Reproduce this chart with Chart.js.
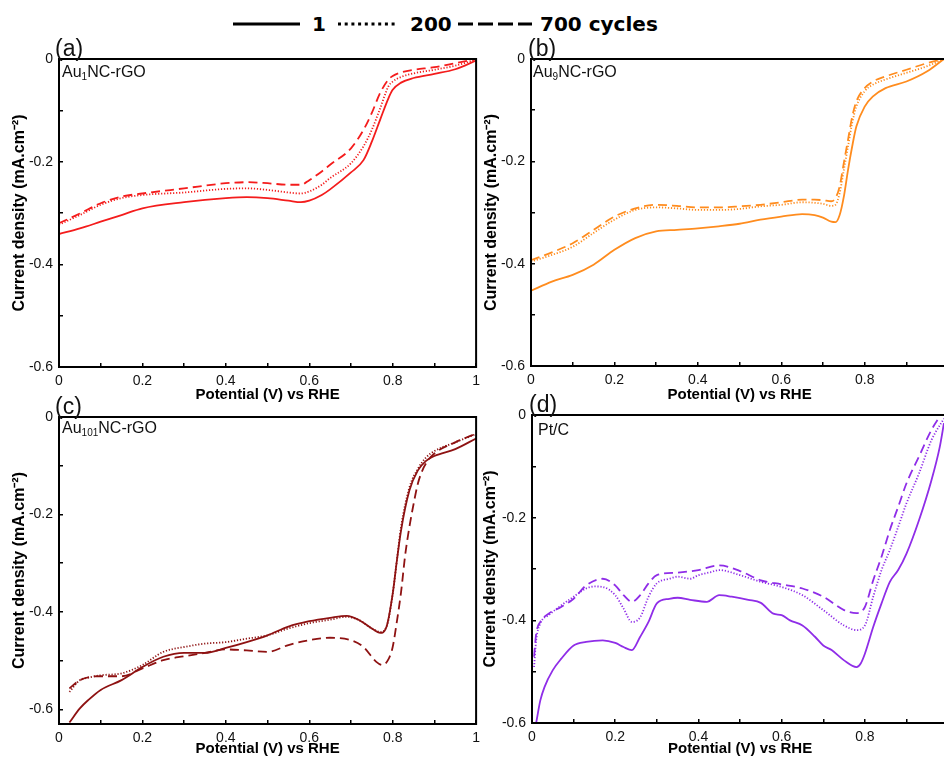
<!DOCTYPE html>
<html>
<head>
<meta charset="utf-8">
<script src="https://cdn.jsdelivr.net/npm/chart.js"></script>
<style>
html, body { margin: 0; padding: 0; background: #fff; }
#page { position: relative; width: 944px; height: 758px; overflow: hidden; font-family: "Liberation Sans", Arial, sans-serif; }
canvas { position: absolute; }
.tag { position: absolute; font-size: 23px; line-height: 23px; color: #111; }
.name { position: absolute; font-size: 16px; line-height: 16px; color: #111; white-space: nowrap; }
.name sub { font-size: 10px; vertical-align: -3px; line-height: 0; }
.leg { position: absolute; top: 12px; font: bold 20px "DejaVu Sans", Verdana, sans-serif; line-height: 24px; color: #000; white-space: nowrap; }
.legline { position: absolute; top: 21px; }
</style>
</head>
<body>
<div id="page">
  <div id="legend"></div>

  <canvas id="chartA"></canvas>
  <canvas id="chartB"></canvas>
  <canvas id="chartC"></canvas>
  <canvas id="chartD"></canvas>

  <div class="tag" style="left:55px;top:37px">(a)</div>
  <div class="tag" style="left:528px;top:37px">(b)</div>
  <div class="tag" style="left:55px;top:395px">(c)</div>
  <div class="tag" style="left:529px;top:393px">(d)</div>

  <div class="name" style="left:62px;top:64px">Au<sub>1</sub>NC-rGO</div>
  <div class="name" style="left:533px;top:64px">Au<sub>9</sub>NC-rGO</div>
  <div class="name" style="left:62px;top:420px">Au<sub>101</sub>NC-rGO</div>
  <div class="name" style="left:538px;top:422px">Pt/C</div>
</div>

<script>
"use strict";

// cycle numbers, same order as the series in each panel
var cycleLabels = ['1', '200', '700 cycles'];

// (a) Au1NC-rGO  -- potential (V vs RHE) / current density (mA.cm-2)
var aV = [0, 0.05, 0.1, 0.15, 0.2, 0.3, 0.4, 0.45, 0.5, 0.55, 0.58, 0.6, 0.63, 0.65, 0.7, 0.73, 0.75, 0.77, 0.79, 0.8, 0.82, 0.85, 0.9, 0.95, 1.0];
var a1 = [-0.341, -0.330, -0.317, -0.304, -0.291, -0.279, -0.271, -0.269, -0.271, -0.276, -0.279, -0.276, -0.265, -0.254, -0.221, -0.197, -0.161, -0.118, -0.076, -0.060, -0.046, -0.037, -0.029, -0.020, -0.003];
var a200 = [-0.323, -0.304, -0.284, -0.271, -0.265, -0.260, -0.253, -0.252, -0.255, -0.260, -0.262, -0.258, -0.245, -0.232, -0.203, -0.170, -0.138, -0.096, -0.053, -0.044, -0.035, -0.028, -0.021, -0.013, -0.001];
var a700 = [-0.320, -0.301, -0.281, -0.268, -0.262, -0.252, -0.242, -0.240, -0.242, -0.245, -0.245, -0.236, -0.219, -0.206, -0.174, -0.138, -0.105, -0.066, -0.040, -0.033, -0.026, -0.021, -0.016, -0.008, 0];

// (b) Au9NC-rGO
var bV = [0, 0.05, 0.1, 0.15, 0.2, 0.25, 0.3, 0.35, 0.4, 0.45, 0.5, 0.55, 0.6, 0.65, 0.68, 0.7, 0.72, 0.73, 0.74, 0.75, 0.76, 0.77, 0.78, 0.8, 0.82, 0.85, 0.9, 0.95, 0.99];
var b1 = [-0.453, -0.435, -0.422, -0.402, -0.373, -0.350, -0.337, -0.334, -0.331, -0.327, -0.322, -0.314, -0.308, -0.303, -0.305, -0.310, -0.318, -0.319, -0.305, -0.269, -0.217, -0.171, -0.132, -0.093, -0.073, -0.057, -0.044, -0.024, 0];
var b200 = [-0.396, -0.383, -0.367, -0.340, -0.314, -0.295, -0.290, -0.292, -0.295, -0.295, -0.293, -0.288, -0.285, -0.280, -0.281, -0.283, -0.287, -0.285, -0.262, -0.217, -0.171, -0.125, -0.093, -0.063, -0.050, -0.040, -0.027, -0.014, 0];
var b700 = [-0.393, -0.378, -0.360, -0.334, -0.308, -0.292, -0.285, -0.287, -0.290, -0.290, -0.288, -0.285, -0.280, -0.275, -0.275, -0.276, -0.278, -0.272, -0.249, -0.203, -0.158, -0.113, -0.083, -0.057, -0.044, -0.034, -0.021, -0.008, 0];

// (c) Au101NC-rGO
var cV = [0.025, 0.05, 0.07, 0.1, 0.15, 0.2, 0.25, 0.3, 0.35, 0.4, 0.45, 0.5, 0.55, 0.6, 0.65, 0.69, 0.72, 0.75, 0.77, 0.785, 0.8, 0.81, 0.82, 0.84, 0.86, 0.88, 0.9, 0.95, 1.0];
var c1 = [-0.627, -0.598, -0.581, -0.560, -0.540, -0.513, -0.492, -0.484, -0.484, -0.474, -0.462, -0.448, -0.430, -0.419, -0.412, -0.408, -0.417, -0.434, -0.443, -0.431, -0.363, -0.295, -0.233, -0.151, -0.110, -0.090, -0.080, -0.066, -0.044];
var c200 = [-0.564, -0.540, -0.535, -0.530, -0.526, -0.509, -0.482, -0.472, -0.465, -0.462, -0.455, -0.448, -0.434, -0.423, -0.416, -0.410, -0.417, -0.434, -0.441, -0.431, -0.363, -0.295, -0.226, -0.145, -0.107, -0.083, -0.070, -0.052, -0.035];
var c700V = [0.025, 0.05, 0.1, 0.15, 0.2, 0.25, 0.3, 0.35, 0.4, 0.45, 0.5, 0.55, 0.6, 0.65, 0.7, 0.73, 0.76, 0.775, 0.79, 0.8, 0.81, 0.82, 0.83, 0.84, 0.85, 0.86, 0.87, 0.88, 0.9, 0.95, 1.0];
var c700 = [-0.557, -0.540, -0.532, -0.532, -0.516, -0.499, -0.491, -0.484, -0.477, -0.479, -0.482, -0.468, -0.458, -0.453, -0.458, -0.472, -0.502, -0.509, -0.497, -0.472, -0.420, -0.360, -0.283, -0.226, -0.179, -0.138, -0.112, -0.095, -0.075, -0.052, -0.034];

// (d) Pt/C
var d1V = [0.01, 0.02, 0.03, 0.05, 0.07, 0.1, 0.13, 0.17, 0.2, 0.22, 0.24, 0.26, 0.28, 0.3, 0.33, 0.35, 0.38, 0.42, 0.45, 0.48, 0.52, 0.55, 0.58, 0.6, 0.62, 0.65, 0.68, 0.7, 0.72, 0.75, 0.78, 0.79, 0.8, 0.82, 0.84, 0.86, 0.88, 0.9, 0.93, 0.96, 0.98, 0.99];
var d1 = [-0.600, -0.556, -0.530, -0.497, -0.475, -0.449, -0.442, -0.439, -0.444, -0.452, -0.458, -0.432, -0.403, -0.367, -0.358, -0.356, -0.360, -0.364, -0.351, -0.354, -0.360, -0.366, -0.387, -0.390, -0.400, -0.410, -0.432, -0.449, -0.458, -0.478, -0.491, -0.484, -0.465, -0.413, -0.367, -0.325, -0.302, -0.270, -0.205, -0.127, -0.062, -0.016];
var d200V = [0.005, 0.01, 0.02, 0.04, 0.07, 0.1, 0.13, 0.15, 0.17, 0.2, 0.22, 0.24, 0.26, 0.28, 0.3, 0.33, 0.35, 0.38, 0.4, 0.43, 0.45, 0.5, 0.55, 0.6, 0.65, 0.7, 0.75, 0.78, 0.8, 0.82, 0.84, 0.86, 0.88, 0.9, 0.93, 0.96, 0.99];
var d200 = [-0.491, -0.439, -0.406, -0.390, -0.371, -0.354, -0.338, -0.334, -0.335, -0.351, -0.377, -0.403, -0.394, -0.354, -0.328, -0.319, -0.315, -0.319, -0.312, -0.306, -0.302, -0.312, -0.325, -0.335, -0.351, -0.380, -0.410, -0.419, -0.410, -0.354, -0.302, -0.263, -0.218, -0.172, -0.114, -0.049, -0.007];
var d700V = [0.005, 0.01, 0.02, 0.04, 0.07, 0.1, 0.13, 0.17, 0.2, 0.22, 0.24, 0.26, 0.28, 0.3, 0.35, 0.4, 0.45, 0.5, 0.55, 0.6, 0.65, 0.7, 0.75, 0.78, 0.8, 0.82, 0.84, 0.86, 0.88, 0.9, 0.93, 0.96, 0.98];
var d700 = [-0.471, -0.426, -0.403, -0.387, -0.374, -0.358, -0.332, -0.319, -0.332, -0.351, -0.364, -0.351, -0.328, -0.312, -0.307, -0.302, -0.293, -0.304, -0.322, -0.330, -0.338, -0.354, -0.380, -0.386, -0.374, -0.322, -0.276, -0.224, -0.179, -0.133, -0.081, -0.029, -0.003];

// line style per cycle: solid, dotted, dashed
var dashes = [[], [1.2, 1.8], [9, 5]];
var legendDash = ['', '3 3.7', '15 5'];
var fontFamily = '"Liberation Sans", Arial, sans-serif';

function points(xs, ys) {
    return xs.map(function (v, i) { return { x: v, y: ys[i] }; });
}

// closed box round the plot, like the original axes
var frame = {
    id: 'frame',
    afterDatasetsDraw: function (chart) {
        var a = chart.chartArea;
        var c = chart.ctx;
        c.save();
        c.strokeStyle = '#000';
        c.lineWidth = 2;
        c.strokeRect(a.left, a.top, a.right - a.left, a.bottom - a.top);
        c.restore();
    }
};

function tickLabel(v) {
    var n = Math.round(v * 10);
    if (n % 2 !== 0) return '';
    return String(n / 10);
}

function makePanel(id, box, color, series, yMin) {
    var canvas = document.getElementById(id);
    canvas.width = box.w;
    canvas.height = box.h;
    canvas.style.left = box.left + 'px';
    canvas.style.top = box.top + 'px';

    var datasets = series.map(function (s, i) {
        return {
            label: cycleLabels[i],
            data: points(s[0], s[1]),
            borderColor: color,
            backgroundColor: 'transparent',
            borderWidth: 1.8,
            borderDash: dashes[i],
            pointRadius: 0,
            cubicInterpolationMode: 'monotone',
            fill: false
        };
    });

    var grid = { drawOnChartArea: false, drawTicks: true, tickLength: -4, color: '#000', lineWidth: 1.5 };

    return new Chart(canvas, {
        type: 'line',
        data: { datasets: datasets },
        options: {
            responsive: false,
            animation: false,
            layout: { padding: { top: 19, right: 0, left: 0, bottom: 0 } },
            plugins: { legend: { display: false }, tooltip: { enabled: false } },
            scales: {
                x: {
                    type: 'linear',
                    min: 0,
                    max: 1,
                    grid: grid,
                    border: { display: false },
                    ticks: {
                        stepSize: 0.1, autoSkip: false, maxRotation: 0, includeBounds: false,
                        padding: 10, color: '#111', font: { family: fontFamily, size: 14 },
                        callback: tickLabel
                    },
                    title: {
                        display: true, text: 'Potential (V) vs RHE', color: '#000',
                        font: { family: fontFamily, size: 15, weight: 'bold' },
                        padding: { top: 0, bottom: box.xtp }
                    },
                    afterFit: function (s) { s.height = box.xh; }
                },
                y: {
                    type: 'linear',
                    min: yMin,
                    max: 0,
                    grid: grid,
                    border: { display: false },
                    ticks: {
                        stepSize: 0.1, autoSkip: false, includeBounds: false,
                        padding: 10, color: '#111', font: { family: fontFamily, size: 14 },
                        callback: tickLabel
                    },
                    title: {
                        display: true, text: 'Current density (mA.cm\u207B\u00B2)', color: '#000',
                        font: { family: fontFamily, size: 16, weight: 'bold' },
                        padding: { top: box.ytp, bottom: 0 }
                    },
                    afterFit: function (s) { s.width = box.yw; }
                }
            }
        },
        plugins: [frame]
    });
}

function makeLegend() {
    var el = document.getElementById('legend');
    var lines = [[233, 67], [338, 60], [458, 74]];
    var texts = [312, 410, 540];
    cycleLabels.forEach(function (lab, i) {
        var w = lines[i][1];
        var svg = '<svg class="legline" style="left:' + lines[i][0] + 'px" width="' + w + '" height="6">' +
            '<line x1="0" y1="3" x2="' + w + '" y2="3" stroke="#000" stroke-width="3"' +
            (legendDash[i] ? ' stroke-dasharray="' + legendDash[i] + '"' : '') + '/></svg>';
        el.insertAdjacentHTML('beforeend', svg);
        var t = document.createElement('div');
        t.className = 'leg';
        t.style.left = texts[i] + 'px';
        t.textContent = lab;
        el.appendChild(t);
    });
}

makeLegend();
// canvas widths leave ~14px on the right for the last x label
makePanel('chartA', { left: 0, top: 40, w: 490, h: 365, yw: 59, xh: 38, xtp: 1, ytp: 10 },
    '#f41c1c', [[aV, a1], [aV, a200], [aV, a700]], -0.6);
makePanel('chartB', { left: 470, top: 40, w: 492, h: 365, yw: 61, xh: 39, xtp: 1, ytp: 12 },
    '#ff8c1e', [[bV, b1], [bV, b200], [bV, b700]], -0.6);
makePanel('chartC', { left: 0, top: 398, w: 490, h: 360, yw: 59, xh: 34, xtp: 0, ytp: 10 },
    '#8e1212', [[cV, c1], [cV, c200], [c700V, c700]], -0.63);
makePanel('chartD', { left: 470, top: 396, w: 492, h: 362, yw: 62, xh: 35, xtp: 0, ytp: 11 },
    '#8f2de8', [[d1V, d1], [d200V, d200], [d700V, d700]], -0.6);
</script>
</body>
</html>
